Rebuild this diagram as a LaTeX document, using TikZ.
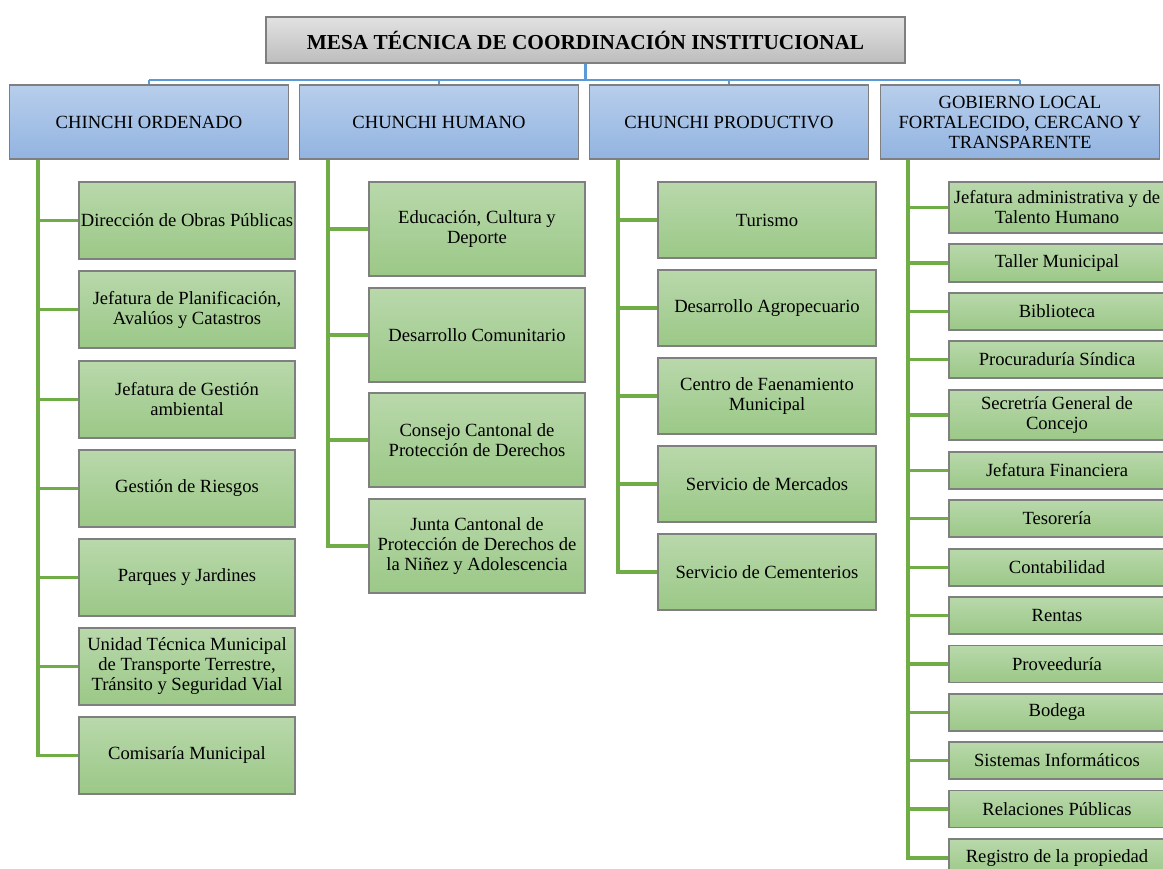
\documentclass[tikz,border=0pt]{standalone}
\usepackage{fontspec}
\setmainfont{Liberation Serif}
\usepackage{tikz}
\usetikzlibrary{positioning, calc}

\definecolor{mesatop}{HTML}{E2E2E2}
\definecolor{mesabot}{HTML}{BDBDBD}
\definecolor{ejetop}{HTML}{B8CEEB}
\definecolor{ejebot}{HTML}{92B4E1}
\definecolor{untop}{HTML}{B9D8AB}
\definecolor{unbot}{HTML}{9BC887}
\definecolor{boxline}{HTML}{7F7F7F}
\definecolor{lineblue}{HTML}{5B9BD5}
\definecolor{linegreen}{HTML}{70AD47}

\tikzset{
  mesabox/.style={draw=boxline, line width=1.4pt, top color=mesatop, bottom color=mesabot,
    minimum width=639pt, minimum height=46pt, font=\bfseries\fontsize{21.3}{23}\selectfont},
  ejebox/.style={draw=boxline, line width=1.4pt, top color=ejetop, bottom color=ejebot,
    minimum width=279pt, minimum height=74pt, align=center, inner sep=1pt},
  unidad/.style={draw=boxline, line width=1.4pt, top color=untop, bottom color=unbot,
    minimum width=216pt, align=center, inner sep=1pt},
  blueline/.style={draw=lineblue, line width=2.6pt},
  greenline/.style={draw=linegreen, line width=3.3pt},
}

\begin{document}
\begin{tikzpicture}[x=1pt, y=-1pt,
    every node/.style={font=\fontsize{18.6}{20}\selectfont}]
  \useasboundingbox[fill=white] (0,0) rectangle (1163,869);

  \node[mesabox] (mesa) at (585.5,40) {MESA TÉCNICA DE COORDINACIÓN INSTITUCIONAL};

  \node[ejebox] (eje1) at (149,122) {CHINCHI ORDENADO};
  \node[ejebox] (eje2) at (439,122) {CHUNCHI HUMANO};
  \node[ejebox] (eje3) at (729,122) {CHUNCHI PRODUCTIVO};
  \node[ejebox] (eje4) at (1020,122) {GOBIERNO LOCAL\\FORTALECIDO, CERCANO Y\\TRANSPARENTE};

  \node[unidad, minimum height=77pt] (ord1) at (187,220.5) {Dirección de Obras Públicas};
  \node[unidad, minimum height=77pt] (ord2) at (187,309.5) {Jefatura de Planificación,\\Avalúos y Catastros};
  \node[unidad, minimum height=77pt] (ord3) at (187,399.5) {Jefatura de Gestión\\ambiental};
  \node[unidad, minimum height=77pt] (ord4) at (187,488.5) {Gestión de Riesgos};
  \node[unidad, minimum height=77pt] (ord5) at (187,577.5) {Parques y Jardines};
  \node[unidad, minimum height=77pt] (ord6) at (187,666.5) {Unidad Técnica Municipal\\de Transporte Terrestre,\\Tránsito y Seguridad Vial};
  \node[unidad, minimum height=77pt] (ord7) at (187,755.5) {Comisaría Municipal};

  \node[unidad, minimum height=94pt] (hum1) at (477,229) {Educación, Cultura y\\Deporte};
  \node[unidad, minimum height=94pt] (hum2) at (477,335) {Desarrollo Comunitario};
  \node[unidad, minimum height=94pt] (hum3) at (477,440) {Consejo Cantonal de\\Protección de Derechos};
  \node[unidad, minimum height=94pt] (hum4) at (477,546) {Junta Cantonal de\\Protección de Derechos de\\la Niñez y Adolescencia};

  \node[unidad, minimum height=76pt, minimum width=218pt] (pro1) at (767,220) {Turismo};
  \node[unidad, minimum height=76pt, minimum width=218pt] (pro2) at (767,308) {Desarrollo Agropecuario};
  \node[unidad, minimum height=76pt, minimum width=218pt] (pro3) at (767,396) {Centro de Faenamiento\\Municipal};
  \node[unidad, minimum height=76pt, minimum width=218pt] (pro4) at (767,484) {Servicio de Mercados};
  \node[unidad, minimum height=76pt, minimum width=218pt] (pro5) at (767,572) {Servicio de Cementerios};

  \node[unidad, minimum height=51pt] (gob1) at (1057,207.5) {Jefatura administrativa y de\\Talento Humano};
  \node[unidad, minimum height=38pt] (gob2) at (1057,263) {Taller Municipal};
  \node[unidad, minimum height=37pt] (gob3) at (1057,311.5) {Biblioteca};
  \node[unidad, minimum height=37pt] (gob4) at (1057,359.5) {Procuraduría Síndica};
  \node[unidad, minimum height=50pt] (gob5) at (1057,415) {Secretría General de\\Concejo};
  \node[unidad, minimum height=37pt] (gob6) at (1057,470.5) {Jefatura Financiera};
  \node[unidad, minimum height=37pt] (gob7) at (1057,518.5) {Tesorería};
  \node[unidad, minimum height=37pt] (gob8) at (1057,567.5) {Contabilidad};
  \node[unidad, minimum height=37pt] (gob9) at (1057,615.5) {Rentas};
  \node[unidad, minimum height=37pt] (gob10) at (1057,664) {Proveeduría};
  \node[unidad, minimum height=37pt] (gob11) at (1057,712.5) {Bodega};
  \node[unidad, minimum height=37pt] (gob12) at (1057,760.5) {Sistemas Informáticos};
  \node[unidad, minimum height=37pt] (gob13) at (1057,809) {Relaciones Públicas};
  \node[unidad, minimum height=38pt] (gob14) at (1057,858) {Registro de la propiedad};

  \coordinate (bus) at (0,80);
  \coordinate (tr1) at (38,0);
  \coordinate (tr2) at (328,0);
  \coordinate (tr3) at (618,0);
  \coordinate (tr4) at (908,0);

  \draw[blueline] (mesa.south) -- (mesa.south |- bus);
  \draw[blueline] (eje1.north |- bus) -- (eje4.north |- bus);
  \draw[blueline] (eje1.north |- bus) -- (eje1.north);
  \draw[blueline] (eje2.north |- bus) -- (eje2.north);
  \draw[blueline] (eje3.north |- bus) -- (eje3.north);
  \draw[blueline] (eje4.north |- bus) -- (eje4.north);

  \draw[greenline] (eje1.south -| tr1) |- (ord7.west);
  \foreach \n in {1,...,6} \draw[greenline] (tr1 |- ord\n.west) -- (ord\n.west);
  \draw[greenline] (eje2.south -| tr2) |- (hum4.west);
  \foreach \n in {1,...,3} \draw[greenline] (tr2 |- hum\n.west) -- (hum\n.west);
  \draw[greenline] (eje3.south -| tr3) |- (pro5.west);
  \foreach \n in {1,...,4} \draw[greenline] (tr3 |- pro\n.west) -- (pro\n.west);
  \draw[greenline] (eje4.south -| tr4) |- (gob14.west);
  \foreach \n in {1,...,13} \draw[greenline] (tr4 |- gob\n.west) -- (gob\n.west);
\end{tikzpicture}
\end{document}
